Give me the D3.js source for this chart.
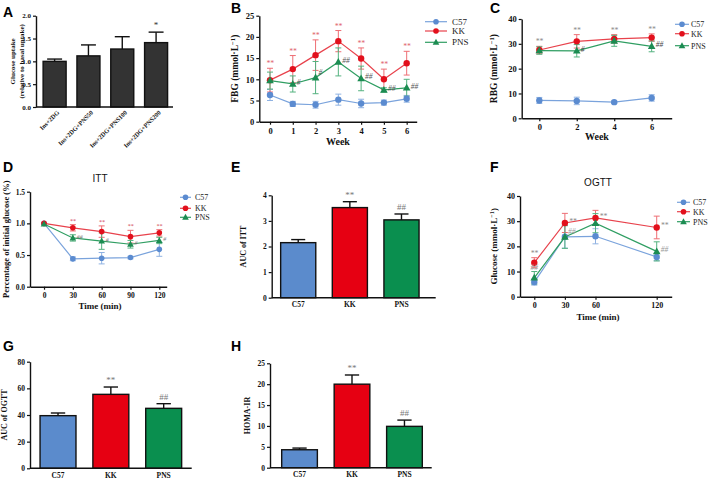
<!DOCTYPE html>
<html><head><meta charset="utf-8">
<script src="https://cdn.jsdelivr.net/npm/d3@7"></script>
<style>
html,body{margin:0;padding:0;background:#fff;}
svg{display:block;}
text{font-family:"Liberation Serif","Times New Roman",serif;}
.lbl{font-family:"Liberation Sans",Arial,sans-serif;font-weight:bold;}
.ttl{font-family:"Liberation Sans",Arial,sans-serif;}
</style></head>
<body>
<svg id="chart" width="709" height="481"></svg>
<script>
// ---------- DATA ----------
const groups = ["C57", "KK", "PNS"];

// A: glucose uptake
const uptakeCats = ["Ins+2DG", "Ins+2DG+PNS50", "Ins+2DG+PNS100", "Ins+2DG+PNS200"];
const uptakeVals = [1.0, 1.12, 1.27, 1.41];
const uptakeErr  = [0.05, 0.24, 0.27, 0.23];
const uptakeSig  = ["", "", "", "*"];
const uptakeTicks = [0, 0.5, 1.0, 1.5, 2.0];

// B: FBG by week
const fbgWeeks = [0, 1, 2, 3, 4, 5, 6];
const fbgC57 = [6.3, 4.2, 4.0, 5.2, 4.3, 4.5, 5.4];
const fbgC57Err = [1.3, 0.6, 0.8, 1.3, 1.0, 0.6, 0.8];
const fbgKK = [9.8, 12.4, 15.7, 19.0, 14.9, 10.0, 13.8];
const fbgKKErr = [2.8, 3.2, 3.6, 2.5, 2.5, 2.4, 2.8];
const fbgPNS = [9.7, 8.9, 10.4, 14.1, 10.2, 7.5, 8.0];
const fbgPNSErr = [2.0, 1.9, 3.8, 3.3, 2.9, 0.5, 2.0];
const fbgKKSig = ["**", "**", "**", "**", "**", "**", "**"];
const fbgPNSSig = ["", "#", "#", "##", "##", "##", "##"];
const fbgTicks = [0, 5, 10, 15, 20, 25];

// C: RBG by week
const rbgWeeks = [0, 2, 4, 6];
const rbgC57 = [7.2, 7.0, 6.5, 8.2];
const rbgC57Err = [1.2, 1.5, 0.5, 1.3];
const rbgKK = [27.5, 31.0, 32.0, 32.5];
const rbgKKErr = [1.5, 2.7, 1.7, 1.5];
const rbgPNS = [27.3, 27.2, 31.2, 29.0];
const rbgPNSErr = [1.5, 2.5, 2.2, 2.2];
const rbgKKSig = ["**", "**", "**", "**"];
const rbgPNSSig = ["", "#", "", "##"];
const rbgTicks = [0, 10, 20, 30, 40];

// D: ITT
const ittTimes = [0, 30, 60, 90, 120];
const ittC57 = [1.0, 0.44, 0.45, 0.46, 0.59];
const ittC57Err = [0.01, 0.03, 0.09, 0.02, 0.11];
const ittKK = [1.0, 0.93, 0.87, 0.79, 0.85];
const ittKKErr = [0.01, 0.05, 0.09, 0.10, 0.05];
const ittPNS = [0.99, 0.77, 0.72, 0.67, 0.73];
const ittPNSErr = [0.01, 0.05, 0.13, 0.06, 0.05];
const ittKKSig = ["", "**", "**", "**", "**"];
const ittPNSSig = ["", "##", "#", "#", "#"];
const ittTicks = [0, 0.5, 1.0, 1.5];

// E: AUC of ITT
const aucIttVals = [2.15, 3.52, 3.04];
const aucIttErr  = [0.12, 0.23, 0.23];
const aucIttSig  = ["", "**", "##"];
const aucIttTicks = [0, 1, 2, 3, 4];

// F: OGTT
const ogttTimes = [0, 30, 60, 120];
const ogttC57 = [5.8, 23.8, 24.0, 15.8];
const ogttC57Err = [1.2, 4.5, 3.0, 1.5];
const ogttKK = [13.5, 29.3, 31.3, 27.5];
const ogttKKErr = [2.0, 3.8, 3.0, 4.5];
const ogttPNS = [7.5, 23.7, 29.2, 18.0];
const ogttPNSErr = [2.5, 4.5, 3.8, 3.8];
const ogttKKSig = ["**", "**", "**", "**"];
const ogttPNSSig = ["##", "##", "", "##"];
const ogttTicks = [0, 10, 20, 30, 40];

// G: AUC of OGTT
const aucOgttVals = [39.5, 55.5, 45.0];
const aucOgttErr  = [2.0, 5.5, 3.5];
const aucOgttSig  = ["", "**", "##"];
const aucOgttTicks = [0, 20, 40, 60, 80];

// H: HOMA-IR
const homaVals = [4.3, 20.0, 9.9];
const homaErr  = [0.4, 2.2, 1.5];
const homaSig  = ["", "**", "##"];
const homaTicks = [0, 5, 10, 15, 20, 25];

// ---------- STYLE ----------
const lineCol = {C57: "#7aa3dc", KK: "#e8424c", PNS: "#2f9e62"};
const markCol = {C57: "#5b8bd0", KK: "#e2101c", PNS: "#1c8c52"};
const errCol  = {C57: "#8fb2e2", KK: "#ee6e74", PNS: "#54b27f"};
const barCol  = {C57: "#5b8bcc", KK: "#e60012", PNS: "#0a8f4f"};

const svg = d3.select("#chart");

function panelLetter(t, x, y) {
  svg.append("text").attr("class", "lbl").attr("x", x).attr("y", y)
     .attr("font-size", 14).text(t);
}

function yAxis(g, y, x0, ticks, fmt, fs) {
  const ax = g.append("g").attr("transform", `translate(${x0},0)`)
    .call(d3.axisLeft(y).tickValues(ticks).tickFormat(fmt).tickSize(3).tickPadding(2).tickSizeOuter(0));
  ax.select(".domain").attr("stroke", "#111").attr("stroke-width", 1.4);
  ax.selectAll(".tick line").attr("stroke", "#111").attr("stroke-width", 1.2);
  ax.selectAll(".tick text").attr("font-family", "Liberation Serif").attr("font-weight", "bold")
    .attr("font-size", fs).attr("fill", "#111");
  return ax;
}

function yLabel(g, lines, x, cy, fs) {
  lines.forEach((l, i) => {
    const t = g.append("text").attr("transform", `translate(${x + i * fs * 1.3},${cy}) rotate(-90)`)
      .attr("text-anchor", "middle").attr("font-weight", "bold").attr("font-size", fs).attr("fill", "#111");
    if (typeof l === "string") t.text(l);
    else l(t);
  });
}

function unitLabel(base) {
  return t => {
    t.append("tspan").text(base + " (mmol·L");
    t.append("tspan").attr("baseline-shift", "super").attr("font-size", "70%").text("−1");
    t.append("tspan").text(")");
  };
}

// ---------- BAR PANEL ----------
function barPanel(o) {
  const g = svg.append("g");
  const x = d3.scaleBand().domain(o.cats).range([o.b0, o.b1]).paddingInner(o.pad).paddingOuter(o.pad / 2);
  const y = d3.scaleLinear().domain([0, o.ticks[o.ticks.length - 1]]).range([o.y0, o.y1]);
  g.selectAll("rect.bar").data(o.cats).join("rect").attr("class", "bar")
    .attr("x", d => x(d)).attr("width", x.bandwidth())
    .attr("y", (d, i) => y(o.vals[i])).attr("height", (d, i) => y(0) - y(o.vals[i]))
    .attr("fill", (d, i) => o.fill(d, i)).attr("stroke", "#111").attr("stroke-width", 1.4);
  const cap = x.bandwidth() * o.capFrac / 2;
  o.cats.forEach((d, i) => {
    const cx = x(d) + x.bandwidth() / 2;
    g.append("line").attr("x1", cx).attr("x2", cx).attr("y1", y(o.vals[i])).attr("y2", y(o.vals[i] + o.errs[i]))
      .attr("stroke", "#111").attr("stroke-width", 1.4);
    g.append("line").attr("x1", cx - cap).attr("x2", cx + cap).attr("y1", y(o.vals[i] + o.errs[i])).attr("y2", y(o.vals[i] + o.errs[i]))
      .attr("stroke", "#111").attr("stroke-width", 1.4);
    if (o.sig[i]) {
      g.append("text").attr("x", cx).attr("y", y(o.vals[i] + o.errs[i]) - 4).attr("text-anchor", "middle")
        .attr("font-size", o.sigFs || 9).attr("fill", o.sigCol || "#666").text(o.sig[i]);
    }
  });
  yAxis(g, y, o.ax, o.ticks, o.fmt, o.fs);
  g.append("line").attr("x1", o.ax).attr("x2", o.axEnd).attr("y1", o.y0).attr("y2", o.y0)
    .attr("stroke", "#111").attr("stroke-width", 1.4);
  const xa = g.append("g").attr("transform", `translate(0,${o.y0})`)
    .call(d3.axisBottom(x).tickSize(o.xTickSize || 0).tickPadding(o.xPad || 3).tickSizeOuter(0));
  xa.select(".domain").remove();
  xa.selectAll(".tick line").attr("stroke", "#111").attr("stroke-width", 1.2);
  xa.selectAll(".tick text").attr("font-family", "Liberation Serif").attr("font-weight", "bold")
    .attr("font-size", o.xfs).attr("fill", "#111");
  if (o.rotate) {
    xa.selectAll(".tick text").attr("text-anchor", "end").attr("dy", 0)
      .attr("transform", "translate(3,4) rotate(-45)");
  }
  yLabel(g, o.ylabel, o.ylx, (o.y0 + o.y1) / 2, o.ylfs);
  return g;
}

// ---------- LINE PANEL ----------
function marker(g, type, cx, cy, r, col) {
  if (type === "tri") {
    const s = r * 1.25;
    g.append("path").attr("d", `M${cx},${cy - s}L${cx + s * 0.95},${cy + s * 0.7}L${cx - s * 0.95},${cy + s * 0.7}Z`).attr("fill", col);
  } else {
    g.append("circle").attr("cx", cx).attr("cy", cy).attr("r", r).attr("fill", col);
  }
}

function linePanel(o) {
  const g = svg.append("g");
  const x = d3.scaleLinear().domain(o.xDom).range([o.ax, o.axEnd]);
  const y = d3.scaleLinear().domain([0, o.yTicks[o.yTicks.length - 1]]).range([o.y0, o.y1]);
  const types = {C57: "circ", KK: "circ", PNS: "tri"};
  const cap = 3;
  o.series.forEach(s => {
    s.vals.forEach((v, i) => {
      const cx = x(o.xs[i]);
      const e = s.errs[i];
      g.append("line").attr("x1", cx).attr("x2", cx).attr("y1", y(v - e)).attr("y2", y(v + e))
        .attr("stroke", errCol[s.name]).attr("stroke-width", 1);
      [v - e, v + e].forEach(yy => g.append("line").attr("x1", cx - cap).attr("x2", cx + cap)
        .attr("y1", y(yy)).attr("y2", y(yy)).attr("stroke", errCol[s.name]).attr("stroke-width", 1));
    });
  });
  o.series.forEach(s => {
    const line = d3.line().x((d, i) => x(o.xs[i])).y(d => y(d));
    g.append("path").datum(s.vals).attr("d", line).attr("fill", "none")
      .attr("stroke", lineCol[s.name]).attr("stroke-width", 1.2);
    s.vals.forEach((v, i) => marker(g, types[s.name], x(o.xs[i]), y(v), o.r || 3.2, markCol[s.name]));
  });
  o.series.forEach(s => {
    if (!s.sig) return;
    s.vals.forEach((v, i) => {
      const m = s.sig[i]; if (!m) return;
      const pos = (s.sigPos && s.sigPos[i]) || s.sigDefault;
      const cx = x(o.xs[i]);
      let tx, ty, anchor;
      if (pos === "top") { tx = cx; ty = y(v + s.errs[i]) - 2; anchor = "middle"; }
      else if (pos === "right") { tx = cx + 4; ty = y(v) + 1; anchor = "start"; }
      else if (pos === "upright") { tx = cx + 3; ty = y(v) - 3; anchor = "start"; }
      else { tx = cx; ty = y(v - s.errs[i]) + 8; anchor = "middle"; }
      g.append("text").attr("x", tx).attr("y", ty).attr("text-anchor", anchor)
        .attr("font-size", o.sigFs || 7.5).attr("font-style", "italic").attr("fill", s.sigCol).text(m);
    });
  });
  yAxis(g, y, o.ax, o.yTicks, o.fmt, o.fs);
  const xa = g.append("g").attr("transform", `translate(0,${o.y0})`)
    .call(d3.axisBottom(x).tickValues(o.xTicks).tickFormat(d3.format("d")).tickSize(3).tickPadding(3).tickSizeOuter(0));
  xa.select(".domain").attr("stroke", "#111").attr("stroke-width", 1.4);
  xa.selectAll(".tick line").attr("stroke", "#111").attr("stroke-width", 1.2);
  xa.selectAll(".tick text").attr("font-family", "Liberation Serif").attr("font-weight", "bold")
    .attr("font-size", o.fs).attr("fill", "#111");
  g.append("text").attr("x", o.xlx).attr("y", o.xly).attr("text-anchor", "middle")
    .attr("font-weight", "bold").attr("font-size", o.xlfs).attr("fill", "#111").text(o.xlabel);
  yLabel(g, o.ylabel, o.ylx, (o.y0 + o.y1) / 2, o.ylfs);
  if (o.title) g.append("text").attr("class", "ttl").attr("x", o.title[1]).attr("y", o.title[2])
    .attr("text-anchor", "middle").attr("font-size", 10).attr("fill", "#111").text(o.title[0]);
  groups.forEach((name, i) => {
    const ly = o.leg.ys[i];
    g.append("line").attr("x1", o.leg.x0).attr("x2", o.leg.x1).attr("y1", ly).attr("y2", ly)
      .attr("stroke", lineCol[name]).attr("stroke-width", 1.2);
    marker(g, types[name], (o.leg.x0 + o.leg.x1) / 2, ly, 2.8, markCol[name]);
    g.append("text").attr("x", o.leg.tx).attr("y", ly + 3).attr("font-size", o.leg.fs || 8.5)
      .attr("fill", "#222").text(name);
  });
  return g;
}

// ---------- PANELS ----------
panelLetter("A", 3, 17);
barPanel({
  cats: uptakeCats, vals: uptakeVals, errs: uptakeErr, sig: uptakeSig, sigCol: "#333",
  b0: 37.7, b1: 173, pad: 0.32, y0: 107, y1: 15.7, ax: 36, axEnd: 173,
  ticks: uptakeTicks, fmt: d3.format(".1f"), fs: 7, xfs: 6.3, rotate: true, capFrac: 0.65,
  fill: () => "#333333", ylabel: ["Glucose uptake", "(relative to basal uptake)"], ylx: 15, ylfs: 7
});

panelLetter("B", 231, 13);
linePanel({
  xDom: [-0.47, 6.44], ax: 259.3, axEnd: 416.7, y0: 121.7, y1: 15.7,
  xs: fbgWeeks, xTicks: fbgWeeks, yTicks: fbgTicks, fmt: d3.format("d"), fs: 8.5,
  series: [
    {name: "C57", vals: fbgC57, errs: fbgC57Err},
    {name: "KK", vals: fbgKK, errs: fbgKKErr, sig: fbgKKSig, sigDefault: "top", sigCol: "#e0606a"},
    {name: "PNS", vals: fbgPNS, errs: fbgPNSErr, sig: fbgPNSSig, sigDefault: "right", sigCol: "#555",
     sigPos: [null, "right", "upright", null, null, null, null]}
  ],
  xlabel: "Week", xlx: 338, xly: 145, xlfs: 10,
  ylabel: [unitLabel("FBG")], ylx: 238, ylfs: 9.5,
  leg: {x0: 425, x1: 447, tx: 452, ys: [21.7, 31, 42.3], fs: 9}
});

panelLetter("C", 490, 13);
linePanel({
  xDom: [-0.94, 7.07], ax: 521.7, axEnd: 671.7, y0: 118.3, y1: 19,
  xs: rbgWeeks, xTicks: rbgWeeks, yTicks: rbgTicks, fmt: d3.format("d"), fs: 8.5,
  series: [
    {name: "C57", vals: rbgC57, errs: rbgC57Err},
    {name: "KK", vals: rbgKK, errs: rbgKKErr, sig: rbgKKSig, sigDefault: "top", sigCol: "#888"},
    {name: "PNS", vals: rbgPNS, errs: rbgPNSErr, sig: rbgPNSSig, sigDefault: "right", sigCol: "#444"}
  ],
  xlabel: "Week", xlx: 597, xly: 140, xlfs: 10,
  ylabel: [unitLabel("RBG")], ylx: 497, ylfs: 9.5,
  leg: {x0: 675, x1: 689, tx: 691, ys: [24.3, 33.7, 45.7], fs: 8}
});

panelLetter("D", 3, 172);
linePanel({
  xDom: [-14.6, 127.7], ax: 30, axEnd: 166.7, y0: 286.7, y1: 191.7,
  xs: ittTimes, xTicks: ittTimes, yTicks: ittTicks, fmt: d3.format(".1f"), fs: 7.5,
  series: [
    {name: "C57", vals: ittC57, errs: ittC57Err},
    {name: "KK", vals: ittKK, errs: ittKKErr, sig: ittKKSig, sigDefault: "top", sigCol: "#d04050"},
    {name: "PNS", vals: ittPNS, errs: ittPNSErr, sig: ittPNSSig, sigDefault: "right", sigCol: "#777"}
  ],
  r: 2.8, sigFs: 6,
  xlabel: "Time (min)", xlx: 100, xly: 309, xlfs: 9,
  ylabel: ["Percentage of initial glucose (%)"], ylx: 9, ylfs: 8.5,
  title: ["ITT", 100, 182],
  leg: {x0: 180, x1: 191, tx: 195, ys: [197.3, 208.3, 217.3], fs: 8}
});

panelLetter("E", 231, 172);
barPanel({
  cats: groups, vals: aucIttVals, errs: aucIttErr, sig: aucIttSig, sigCol: "#777",
  b0: 272.4, b1: 427.3, pad: 0.32, y0: 297.7, y1: 195.3, ax: 271.7, axEnd: 435.7,
  ticks: aucIttTicks, fmt: d3.format("d"), fs: 7.5, xfs: 7.5, capFrac: 0.4, xPad: 4,
  fill: d => barCol[d], ylabel: ["AUC of ITT"], ylx: 246, ylfs: 8
});

panelLetter("F", 490, 172);
linePanel({
  xDom: [-14, 134.7], ax: 520, axEnd: 671.7, y0: 296.7, y1: 196,
  xs: ogttTimes, xTicks: ogttTimes, yTicks: ogttTicks, fmt: d3.format("d"), fs: 8,
  series: [
    {name: "C57", vals: ogttC57, errs: ogttC57Err},
    {name: "KK", vals: ogttKK, errs: ogttKKErr, sig: ogttKKSig, sigDefault: "right", sigCol: "#888",
     sigPos: ["top", null, null, null]},
    {name: "PNS", vals: ogttPNS, errs: ogttPNSErr, sig: ogttPNSSig, sigDefault: "right", sigCol: "#999",
     sigPos: ["top", "upright", null, null]}
  ],
  xlabel: "Time (min)", xlx: 598, xly: 320, xlfs: 9,
  ylabel: [unitLabel("Glucose")], ylx: 497, ylfs: 9,
  title: ["OGTT", 598, 186],
  leg: {x0: 677, x1: 690, tx: 693, ys: [202.3, 211.7, 221.7], fs: 8}
});

panelLetter("G", 3, 351);
barPanel({
  cats: groups, vals: aucOgttVals, errs: aucOgttErr, sig: aucOgttSig, sigCol: "#777",
  b0: 31.6, b1: 190.1, pad: 0.32, y0: 468.3, y1: 361.7, ax: 30, axEnd: 191.7,
  ticks: aucOgttTicks, fmt: d3.format("d"), fs: 7.5, xfs: 7.5, capFrac: 0.4, xPad: 4,
  fill: d => barCol[d], ylabel: ["AUC of OGTT"], ylx: 7, ylfs: 8
});

panelLetter("H", 231, 351);
barPanel({
  cats: groups, vals: homaVals, errs: homaErr, sig: homaSig, sigCol: "#777",
  b0: 273.3, b1: 430.7, pad: 0.32, y0: 467.7, y1: 363.3, ax: 270, axEnd: 431.7,
  ticks: homaTicks, fmt: d3.format("d"), fs: 7.5, xfs: 7.5, capFrac: 0.4, xPad: 4,
  fill: d => barCol[d], ylabel: ["HOMA-IR"], ylx: 250, ylfs: 8
});
</script>
</body></html>
